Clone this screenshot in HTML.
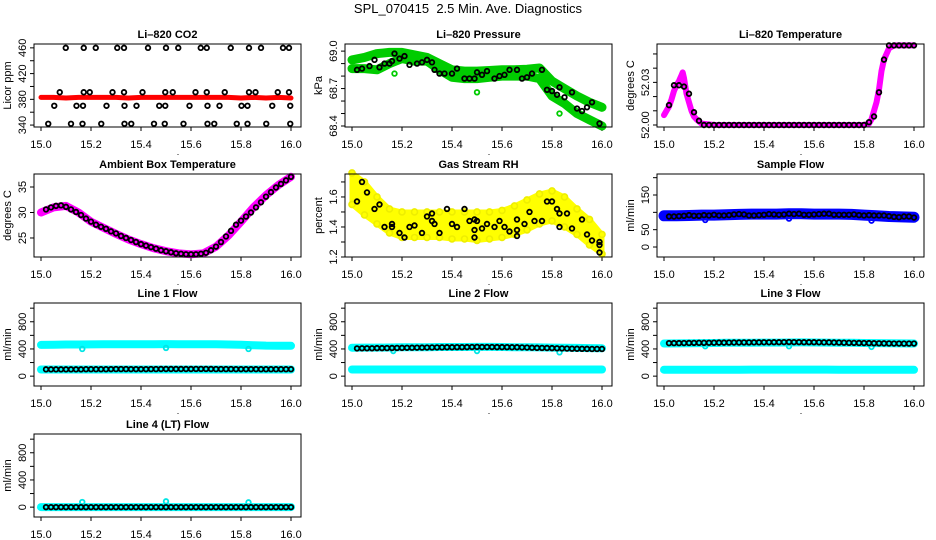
<!DOCTYPE html>
<html><head><meta charset="utf-8"><style>
html,body{margin:0;padding:0;background:#fff}
svg{display:block;font-family:"Liberation Sans",sans-serif}
</style></head><body>
<svg id="chart" width="936" height="540" viewBox="0 0 936 540">
<rect width="936" height="540" fill="#fff"/>
<text x="468" y="13" text-anchor="middle" font-size="13">SPL_070415&#160; 2.5 Min. Ave. Diagnostics</text>
</svg>
<script>
const T21=[15.00,15.05,15.10,15.15,15.20,15.25,15.30,15.35,15.40,15.45,15.50,15.55,15.60,15.65,15.70,15.75,15.80,15.85,15.90,15.95,16.00];
const T50=[15.02,15.04,15.06,15.08,15.10,15.12,15.14,15.16,15.18,15.20,15.22,15.24,15.26,15.28,15.30,15.32,15.34,15.36,15.38,15.40,15.42,15.44,15.46,15.48,15.50,15.52,15.54,15.56,15.58,15.60,15.62,15.64,15.66,15.68,15.70,15.72,15.74,15.76,15.78,15.80,15.82,15.84,15.86,15.88,15.90,15.92,15.94,15.96,15.98,16.00];
const xTicks=[15.0,15.2,15.4,15.6,15.8,16.0];
const xTickLabels=["15.0","15.2","15.4","15.6","15.8","16.0"];

// CO2
const co2BandV=[383,383,382,383,383,383,383,382,383,383,383,383,383,383,383,383,382,383,382,383,382];
const co2T=[15.099,15.171,15.219,15.305,15.332,15.428,15.500,15.549,15.639,15.663,15.759,15.832,15.880,15.968,15.992,
15.075,15.171,15.195,15.286,15.332,15.406,15.497,15.527,15.618,15.663,15.735,15.832,15.858,15.947,15.992,
15.053,15.142,15.168,15.262,15.334,15.382,15.473,15.497,15.594,15.666,15.714,15.802,15.826,15.925,15.997,
15.029,15.120,15.166,15.241,15.334,15.361,15.452,15.495,15.570,15.666,15.693,15.783,15.826,15.901,15.997];
const co2V=[460,460,460,460,460,460,460,460,460,460,460,460,460,460,460,
391,391,391,391,391,391,391,391,391,391,391,391,391,391,391,
370,370,370,370,370,370,370,370,370,370,370,370,370,370,370,
342,342,342,342,342,342,342,342,342,342,342,342,342,342,342];
const co2Ticks=[340,360,380,400,420,440,460];
const co2Labels=["340","","380","","420","","460"];

// Pressure
const presUpper=[68.93,68.95,68.98,68.99,68.99,68.97,68.95,68.90,68.85,68.84,68.84,68.845,68.85,68.85,68.855,68.865,68.76,68.70,68.64,68.59,68.55];
const presLower=[68.86,68.86,68.85,68.90,68.94,68.92,68.92,68.85,68.79,68.78,68.78,68.79,68.80,68.80,68.80,68.78,68.64,68.58,68.50,68.45,68.40];
const presT=[15.02,15.04,15.07,15.09,15.11,15.13,15.15,15.16,15.17,15.19,15.21,15.23,15.26,15.28,15.30,15.32,15.33,15.35,15.37,15.40,15.42,15.45,15.47,15.49,15.50,15.52,15.54,15.57,15.59,15.61,15.63,15.66,15.68,15.70,15.72,15.76,15.78,15.80,15.82,15.83,15.85,15.88,15.90,15.92,15.94,15.96,15.99];
const presV=[68.85,68.86,68.88,68.93,68.87,68.90,68.90,68.92,68.98,68.94,68.96,68.89,68.90,68.91,68.93,68.91,68.85,68.82,68.82,68.82,68.86,68.78,68.78,68.78,68.83,68.81,68.84,68.78,68.80,68.81,68.85,68.85,68.78,68.79,68.82,68.85,68.69,68.68,68.65,68.71,68.63,68.67,68.54,68.52,68.55,68.59,68.42];
const presOutT=[15.17,15.50,15.83];
const presOutV=[68.82,68.67,68.50];
const presTicks=[68.4,68.5,68.6,68.7,68.8,68.9,69.0];
const presLabels=["68.4","","","68.7","","","69.0"];

// Li-820 temperature
const tempT=[15.0,15.01,15.02,15.03,15.04,15.05,15.06,15.07,15.075,15.08,15.09,15.10,15.11,15.12,15.13,15.15,15.2,15.5,15.8,15.82,15.83,15.84,15.85,15.86,15.87,15.88,15.89,15.9,15.92,16.0];
const tempV=[52.007,52.010,52.013,52.018,52.024,52.028,52.031,52.035,52.037,52.033,52.022,52.016,52.010,52.006,52.004,52.001,52.0,52.0,52.0,52.001,52.004,52.010,52.016,52.025,52.038,52.046,52.050,52.054,52.056,52.056];
const tempBlackV=[52.014,52.028,52.028,52.027,52.022,52.009,52.003,52.000,52.0,52.0,52.0,52.0,52.0,52.0,52.0,52.0,52.0,52.0,52.0,52.0,52.0,52.0,52.0,52.0,52.0,52.0,52.0,52.0,52.0,52.0,52.0,52.0,52.0,52.0,52.0,52.0,52.0,52.0,52.0,52.0,52.002,52.006,52.023,52.046,52.056,52.056,52.056,52.056,52.056,52.056];
const tempTicks=[52.00,52.01,52.02,52.03,52.04,52.05];
const tempLabels=["52.00","","","52.03","",""];

// Ambient box temperature
const ambV=[30.0,31.0,31.3,30.0,28.2,27.0,25.8,24.7,23.8,23.0,22.4,22.0,21.8,22.0,23.3,25.5,28.2,31.0,33.4,35.4,37.0];
const ambBlackV=[30.6,31.0,31.3,31.4,31.1,30.6,30.1,29.5,28.8,28.2,27.6,27.2,26.8,26.3,25.9,25.4,25.0,24.6,24.2,23.8,23.5,23.2,22.9,22.6,22.4,22.2,22.0,21.9,21.8,21.8,21.8,21.9,22.1,22.6,23.3,24.2,25.3,26.4,27.6,28.4,29.2,30.0,31.0,32.0,33.1,34.0,34.9,35.6,36.3,37.0];
const ambTicks=[25,30,35];
const ambLabels=["25","30","35"];

// Gas stream RH
const rhUpper=[1.76,1.70,1.60,1.52,1.50,1.50,1.50,1.50,1.50,1.50,1.50,1.50,1.51,1.54,1.58,1.62,1.64,1.60,1.52,1.45,1.35];
const rhLower=[1.55,1.48,1.42,1.36,1.33,1.33,1.33,1.33,1.32,1.32,1.31,1.32,1.33,1.35,1.38,1.42,1.44,1.40,1.35,1.28,1.22];
const rhT=[15.02,15.04,15.06,15.09,15.11,15.13,15.16,15.16,15.19,15.21,15.23,15.25,15.28,15.30,15.32,15.33,15.32,15.35,15.38,15.40,15.42,15.45,15.47,15.49,15.50,15.49,15.49,15.52,15.54,15.57,15.59,15.61,15.63,15.66,15.66,15.66,15.69,15.71,15.73,15.76,15.78,15.80,15.82,15.83,15.83,15.86,15.88,15.92,15.94,15.96,15.99,15.99,15.99];
const rhV=[1.57,1.70,1.63,1.52,1.55,1.40,1.42,1.40,1.36,1.33,1.40,1.41,1.36,1.47,1.44,1.42,1.49,1.36,1.52,1.42,1.40,1.52,1.44,1.45,1.44,1.33,1.38,1.39,1.42,1.40,1.44,1.40,1.37,1.38,1.34,1.45,1.42,1.50,1.44,1.44,1.57,1.57,1.52,1.49,1.40,1.49,1.39,1.45,1.35,1.31,1.30,1.28,1.23];
const rhTicks=[1.2,1.3,1.4,1.5,1.6,1.7];
const rhLabels=["1.2","","1.4","","1.6",""];

// Sample flow
const sampBandV=[90,90,91,92,92,93,94,95,95,95,96,96,95,95,95,94,92,90,88,87,86];
const sampBlackV=[88,88,89,90,92,90,90,92,91,93,91,91,92,94,95,94,91,91,92,93,95,94,93,94,96,95,96,93,93,94,95,96,96,93,93,93,93,94,92,91,92,91,91,91,89,87,86,88,88,85];
const sampOutT=[15.165,15.50,15.83];
const sampOutV=[78,82,76];
const sampTicks=[0,50,100,150,200];
const sampLabels=["0","50","","150",""];

// Line flows
const flowTicks=[0,200,400,600,800,1000];
const flowLabels=["0","","400","","800",""];
const line1Upper=[460,462,465,466,467,468,468,469,470,470,471,470,470,469,468,466,462,455,450,448,446];
const line1Lower=[98,98,98,98,98,98,98,98,98,98,98,98,98,98,98,98,98,98,98,98,98];
const line1BlackV=[100,100,100,100,100,100,100,100,102,102,102,102,102,103,104,104,104,103,103,103,103,104,104,105,105,105,105,105,105,105,106,106,106,105,104,104,104,104,103,103,103,103,103,102,102,102,102,102,102,102];
const line1OutV=[400,415,400];
const line2Upper=[418,420,420,422,424,425,426,428,428,428,430,430,428,426,425,423,420,418,415,412,410];
const line2Lower=[98,98,98,98,98,98,98,98,98,98,98,98,98,98,98,98,98,98,98,98,98];
const line2BlackV=[408,410,410,410,412,412,413,414,415,416,417,418,419,420,421,422,423,424,425,425,426,426,427,428,430,428,428,428,427,427,426,425,425,423,421,418,416,415,414,412,410,408,406,404,403,402,401,400,400,400];
const line2OutV=[370,370,350];
const line3Upper=[480,482,484,486,488,490,491,492,493,494,495,496,495,494,492,490,488,486,484,482,480];
const line3Lower=[95,95,95,95,95,95,95,96,96,96,96,96,96,96,95,95,95,94,94,93,93];
const line3BlackV=[485,486,486,487,488,489,490,490,491,492,493,493,494,495,495,496,496,497,497,498,498,499,499,500,502,500,500,499,499,499,498,497,497,495,494,492,490,489,488,487,486,484,483,482,481,480,480,479,479,480];
const line3OutV=[440,440,430];
const line4BandV=[0,0,0,0,0,0,0,0,0,0,0,0,0,0,0,0,0,0,0,0,0];
const line4BlackV=[0,0,0,0,0,0,0,0,0,0,0,0,0,0,0,0,0,0,0,0,0,0,0,0,0,0,0,0,0,0,0,0,0,0,0,0,0,0,0,0,0,0,0,0,0,0,0,0,0,0];
const line4OutV=[75,85,70];
const flowOutT=[15.165,15.50,15.83];

const NS="http://www.w3.org/2000/svg";
const svg=document.getElementById('chart');
const COLS=[34,345,657], ROWS=[44,174,303,434], PW=267, PH=83;

function el(tag,attrs,parent){const e=document.createElementNS(NS,tag);for(const k in attrs)e.setAttribute(k,attrs[k]);(parent||svg).appendChild(e);return e;}

function makePanel(col,row,name,title,ylab,ymin,ymax,ticks,labels){
  const L=COLS[col],T=ROWS[row];
  const g=el('g',{});
  
  
  const p={g,L,T,
    sx:t=>L+7+(t-15)*250,
    sy:v=>T+PH-(v-ymin)/(ymax-ymin)*PH};
  const tt=el('text',{x:L+PW/2,y:T-6,'text-anchor':'middle','font-size':11,'font-weight':'bold'},g);
  tt.textContent=title;
  
  
  const yt=el('text',{transform:`translate(${L-23},${T+PH/2}) rotate(-90)`,'text-anchor':'middle','font-size':11},g);
  yt.textContent=ylab;
  
  
  xTicks.forEach((t,i)=>{
    const x=p.sx(t);
    el('line',{x1:x,x2:x,y1:T+PH,y2:T+PH+4,stroke:'#000'},g);
    const lb=el('text',{x:x,y:T+PH+21,'text-anchor':'middle','font-size':11},g);
    lb.textContent=xTickLabels[i];
    
    
  });
  const dot=el('text',{x:L+144,y:T+PH+28,'text-anchor':'middle','font-size':9},g);
  dot.textContent='.';
  
  
  ticks.forEach((v,i)=>{
    const y=p.sy(v);
    if(y<T-1||y>T+PH+1)return;
    el('line',{x1:L-4,x2:L,y1:y,y2:y,stroke:'#000'},g);
    if(labels[i]){
      const lb=el('text',{transform:`translate(${L-8},${y}) rotate(-90)`,'text-anchor':'middle','font-size':11},g);
      lb.textContent=labels[i];
      
      
    }
  });
  p.marks=el('g',{},g);
  const box=el('rect',{x:L,y:T,width:PW,height:PH,fill:'none',stroke:'#000','stroke-width':1},g);
  
  
  return p;
}
function band(p,ts,vs,color,w,name){
  const pts=ts.map((t,i)=>p.sx(t).toFixed(1)+','+p.sy(vs[i]).toFixed(1)).join(' ');
  const l=el('polyline',{points:pts,fill:'none',stroke:color,'stroke-width':w,'stroke-linejoin':'round','stroke-linecap':'round'},p.marks);
  
  
}
function area(p,ts,up,lo,color,name){
  const a=ts.map((t,i)=>p.sx(t).toFixed(1)+','+p.sy(up[i]).toFixed(1));
  const b=ts.map((t,i)=>p.sx(t).toFixed(1)+','+p.sy(lo[i]).toFixed(1)).reverse();
  const poly=el('polygon',{points:a.concat(b).join(' '),fill:color,stroke:color,'stroke-width':5,'stroke-linejoin':'round'},p.marks);
  
  
}
function pts(p,ts,vs,color,name,r,sw){
  ts.forEach((t,i)=>{
    const c=el('circle',{cx:p.sx(t),cy:p.sy(vs[i]),r:r||2.3,fill:'none',stroke:color,'stroke-width':sw||1.8},p.marks);
    
    
  });
}

let p=makePanel(0,0,'co2','Li\u2013820 CO2','Licor ppm',337,466,co2Ticks,co2Labels);
band(p,T21,co2BandV,'#ff0000',5,'co2-band');
pts(p,co2T,co2V,'#000','co2-point');

p=makePanel(1,0,'pressure','Li\u2013820 Pressure','kPa',68.392,69.057,presTicks,presLabels);
band(p,T21,presUpper,'#00cc00',9,'pressure-band-upper');
band(p,T21,presLower,'#00cc00',9,'pressure-band-lower');
pts(p,presOutT,presOutV,'#00cc00','pressure-green-point');
pts(p,presT,presV,'#000','pressure-point');

p=makePanel(2,0,'li820-temp','Li\u2013820 Temperature','degrees C',51.9986,52.057,tempTicks,tempLabels);
band(p,tempT,tempV,'#ff00ff',6,'li820-temp-band');
pts(p,T50,tempBlackV,'#000','li820-temp-point');

p=makePanel(0,1,'ambient','Ambient Box Temperature','degrees C',21.27,37.55,ambTicks,ambLabels);
band(p,T21,ambV,'#ff00ff',8,'ambient-band');
pts(p,T50,ambBlackV,'#000','ambient-point');

p=makePanel(1,1,'rh','Gas Stream RH','percent',1.2,1.753,rhTicks,rhLabels);
area(p,T21,rhUpper,rhLower,'#ffff00','rh-band');
pts(p,T21,rhUpper,'#eeee00','rh-yellow-point',3,1.6);
pts(p,T21,rhLower,'#eeee00','rh-yellow-point',3,1.6);
pts(p,rhT,rhV,'#000','rh-point');

p=makePanel(2,1,'sample-flow','Sample Flow','ml/min',-28.8,210.6,sampTicks,sampLabels);
band(p,T21,sampBandV,'#0000ff',11,'sample-flow-band');
pts(p,sampOutT,sampOutV,'#0000ff','sample-flow-blue-point');
pts(p,T50,sampBlackV,'#000','sample-flow-point');

function flowPanel(col,row,name,title,up,lo,blk,out){
  const q=makePanel(col,row,name,title,'ml/min',-145,1076,flowTicks,flowLabels);
  band(q,T21,up,'#00ffff',8,name+'-cyan-band');
  if(lo)band(q,T21,lo,'#00ffff',8,name+'-cyan-band-low');
  pts(q,flowOutT,out,'#00e5e5',name+'-cyan-point');
  pts(q,T50,blk,'#000',name+'-point');
}
flowPanel(0,2,'line1-flow','Line 1 Flow',line1Upper,line1Lower,line1BlackV,line1OutV);
flowPanel(1,2,'line2-flow','Line 2 Flow',line2Upper,line2Lower,line2BlackV,line2OutV);
flowPanel(2,2,'line3-flow','Line 3 Flow',line3Upper,line3Lower,line3BlackV,line3OutV);
flowPanel(0,3,'line4-flow','Line 4 (LT) Flow',line4BandV,null,line4BlackV,line4OutV);
</script>
</body></html>
